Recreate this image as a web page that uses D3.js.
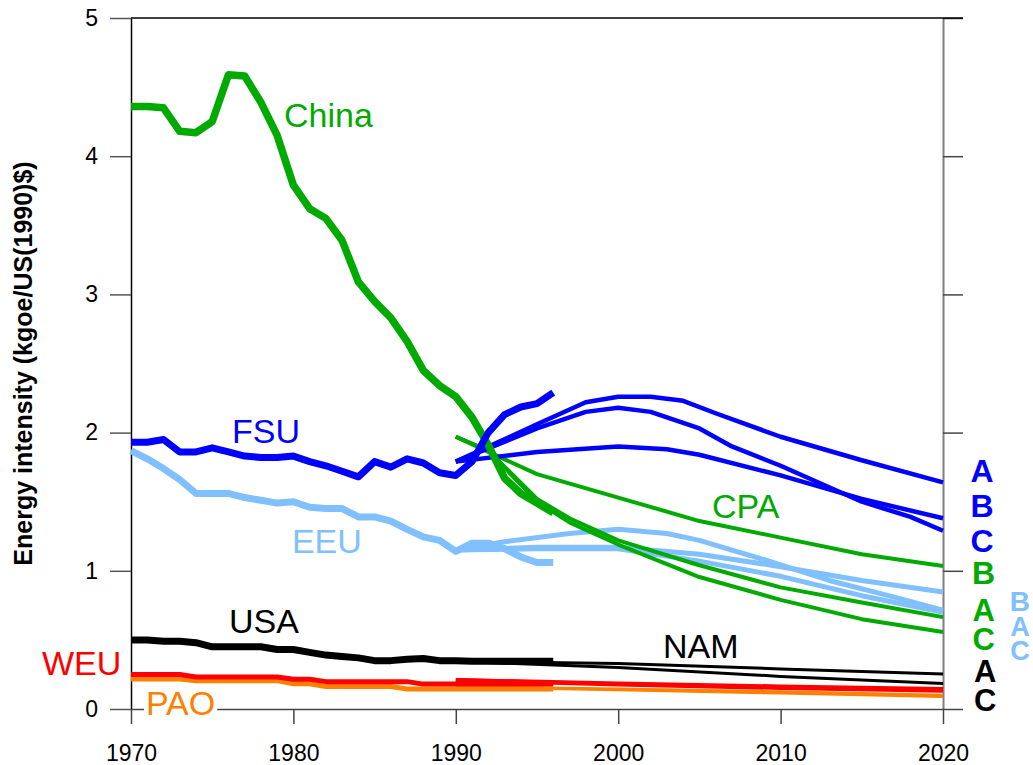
<!DOCTYPE html>
<html>
<head>
<meta charset="utf-8">
<script src="https://cdn.jsdelivr.net/npm/d3@7"></script>
<style>
  html, body { margin: 0; padding: 0; background: #fff; }
  svg { display: block; font-family: Arial, "Liberation Sans", sans-serif; }
</style>
</head>
<body>
<svg id="chart" width="1033" height="765"></svg>
<script>
// ---------- DATA ----------
const histYears = d3.range(1970, 1997);
const chinaHist = [4.36,4.36,4.35,4.18,4.17,4.25,4.59,4.58,4.39,4.15,3.79,3.62,3.55,3.39,3.09,2.95,2.83,2.66,2.45,2.34,2.26,2.11,1.91,1.67,1.56,1.49,1.42];
const fsuHist   = [1.93,1.93,1.95,1.86,1.86,1.89,1.86,1.83,1.82,1.82,1.83,1.79,1.76,1.72,1.68,1.79,1.75,1.81,1.78,1.71,1.69,1.79,2.00,2.13,2.185,2.21,2.29];
const eeuHist   = [1.87,1.81,1.74,1.66,1.56,1.56,1.56,1.53,1.51,1.49,1.50,1.46,1.45,1.45,1.39,1.39,1.36,1.30,1.245,1.22,1.14,1.20,1.20,1.16,1.10,1.06,1.06];
const usaHist   = [0.50,0.50,0.49,0.49,0.48,0.45,0.45,0.45,0.45,0.43,0.43,0.41,0.39,0.38,0.37,0.35,0.35,0.36,0.365,0.35,0.35,0.345,0.345,0.345,0.345,0.345,0.345];
const weuHist   = [0.25,0.25,0.25,0.25,0.232,0.232,0.232,0.232,0.232,0.232,0.215,0.215,0.198,0.198,0.198,0.198,0.198,0.198,0.18,0.18,0.18,0.18,0.18,0.18,0.18,0.18,0.18];
const paoHist   = [0.217,0.217,0.217,0.217,0.205,0.205,0.205,0.205,0.205,0.205,0.182,0.182,0.163,0.163,0.163,0.163,0.163,0.145,0.145,0.145,0.145,0.145,0.145,0.145,0.145,0.145,0.145];

// scenario series (years, values)
const fsuAYears = [1990,1995,1998,2000,2002,2004,2006,2010,2015,2020];
const fsuAVals  = [1.79,2.06,2.22,2.26,2.26,2.23,2.14,1.97,1.80,1.64];
const fsuBYears = [1990,1995,2000,2003,2005,2010,2015,2020];
const fsuBVals  = [1.79,1.86,1.90,1.88,1.84,1.69,1.52,1.38];
const fsuCYears = [1990,1995,1998,2000,2002,2005,2007,2010,2015,2018,2020];
const fsuCVals  = [1.79,2.03,2.15,2.18,2.15,2.03,1.90,1.76,1.50,1.39,1.29];

const cpaAYears = [1990,1992,1995,1997,2000,2005,2010,2015,2020];
const cpaAVals  = [1.97,1.87,1.52,1.38,1.22,1.04,0.88,0.77,0.665];
const cpaBYears = [1990,1992,1995,2000,2005,2010,2015,2020];
const cpaBVals  = [1.97,1.86,1.70,1.53,1.36,1.24,1.12,1.035];
const cpaCYears = [1990,1992,1995,1997,2000,2005,2010,2015,2020];
const cpaCVals  = [1.97,1.87,1.50,1.35,1.19,0.955,0.79,0.65,0.557];

const eeuAYears = [1990,1993,1997,2000,2003,2005,2009,2013,2017,2020];
const eeuAVals  = [1.15,1.21,1.27,1.30,1.27,1.22,1.08,0.93,0.81,0.716];
const eeuBYears = [1990,1995,2000,2005,2010,2015,2020];
const eeuBVals  = [1.15,1.17,1.17,1.12,1.03,0.93,0.846];
const eeuCYears = [1990,1995,2000,2005,2010,2015,2020];
const eeuCVals  = [1.15,1.16,1.16,1.07,0.96,0.82,0.70];

const namAYears = [1990,2000,2010,2020];
const namAVals  = [0.345,0.33,0.29,0.253];
const namCYears = [1990,2000,2010,2020];
const namCVals  = [0.345,0.30,0.236,0.185];

const weuAYears = [1990,2000,2010,2020];
const weuAVals  = [0.21,0.185,0.163,0.145];
const weuCYears = [1990,2000,2010,2020];
const weuCVals  = [0.21,0.178,0.152,0.132];

const paoAYears = [1990,2000,2010,2020];
const paoAVals  = [0.16,0.145,0.125,0.10];
const paoCYears = [1990,2000,2010,2020];
const paoCVals  = [0.16,0.14,0.115,0.09];

const xTicks = [1970,1980,1990,2000,2010,2020];
const yTicks = [0,1,2,3,4,5];

// region labels: [text, year, value(baseline), colour]
const regionLabels = [
  ["China", 1979.42, 4.21, "#00AA00"],
  ["FSU",   1976.22, 1.925, "#0000FF"],
  ["EEU",   1979.91, 1.129, "#80C0FF"],
  ["CPA",   2005.78, 1.382, "#00AA00"],
  ["USA",   1976.03, 0.55,  "#000000"],
  ["NAM",   2002.76, 0.369, "#000000"],
  ["WEU",   1964.52, 0.246, "#FF0000"],
  ["PAO",   1970.92, -0.043, "#FF8000"]
];
// scenario letters at the right: [text, year(centre), value(centre), colour, size]
const scenarioLetters = [
  ["A", 2022.4, 1.729, "#0000FF", 32],
  ["B", 2022.4, 1.476, "#0000FF", 32],
  ["C", 2022.4, 1.223, "#0000FF", 32],
  ["B", 2022.5, 0.991, "#00AA00", 32],
  ["A", 2022.5, 0.716, "#00AA00", 31],
  ["C", 2022.5, 0.507, "#00AA00", 31],
  ["A", 2022.6, 0.275, "#000000", 31],
  ["C", 2022.6, 0.065, "#000000", 31],
  ["B", 2024.74, 0.781, "#80C0FF", 28],
  ["A", 2024.74, 0.598, "#80C0FF", 27],
  ["C", 2024.74, 0.422, "#80C0FF", 27]
];

// ---------- CHART ----------
const svg = d3.select("#chart");
const x = d3.scaleLinear().domain([1970, 2020]).range([131, 943]);
const y = d3.scaleLinear().domain([0, 5]).range([709, 18]);

const line = d3.line().x(d => x(d[0])).y(d => y(d[1]));
const zip = (xs, vs) => xs.map((v, i) => [v, vs[i]]);

const series = [
  // scenarios (thin)
  {xs: eeuAYears, vs: eeuAVals, c: "#80C0FF", w: 5},
  {xs: eeuBYears, vs: eeuBVals, c: "#80C0FF", w: 5},
  {xs: eeuCYears, vs: eeuCVals, c: "#80C0FF", w: 5},
  {xs: cpaAYears, vs: cpaAVals, c: "#00AA00", w: 4},
  {xs: cpaBYears, vs: cpaBVals, c: "#00AA00", w: 4},
  {xs: cpaCYears, vs: cpaCVals, c: "#00AA00", w: 4},
  {xs: fsuAYears, vs: fsuAVals, c: "#0000FF", w: 4.5},
  {xs: fsuBYears, vs: fsuBVals, c: "#0000FF", w: 4.5},
  {xs: fsuCYears, vs: fsuCVals, c: "#0000FF", w: 4.5},
  {xs: namAYears, vs: namAVals, c: "#000000", w: 3},
  {xs: namCYears, vs: namCVals, c: "#000000", w: 3},
  {xs: paoAYears, vs: paoAVals, c: "#FF8000", w: 3},
  {xs: paoCYears, vs: paoCVals, c: "#FF8000", w: 3},
  {xs: weuAYears, vs: weuAVals, c: "#FF0000", w: 4},
  {xs: weuCYears, vs: weuCVals, c: "#FF0000", w: 4},
  // history (thick)
  {xs: histYears, vs: eeuHist,   c: "#80C0FF", w: 7},
  {xs: histYears, vs: chinaHist, c: "#00AA00", w: 7.5},
  {xs: histYears, vs: fsuHist,   c: "#0000FF", w: 7},
  {xs: histYears, vs: usaHist,   c: "#000000", w: 7},
  {xs: histYears, vs: paoHist,   c: "#FF8000", w: 5},
  {xs: histYears, vs: weuHist,   c: "#FF0000", w: 5}
];

// axes
const axisFont = "23px";
const gL = svg.append("g").attr("transform", `translate(${x(1970)},0)`)
  .call(d3.axisLeft(y).tickValues(yTicks).tickSize(21).tickSizeOuter(0).tickPadding(12).tickFormat(d3.format("d")));
gL.select(".domain").attr("stroke", "#000").attr("stroke-width", 1.5);
gL.selectAll(".tick line").attr("stroke", "#555").attr("stroke-width", 1.5);
gL.selectAll(".tick text").attr("font-size", axisFont).attr("fill", "#000")
  .attr("font-family", "Arial, 'Liberation Sans', sans-serif");

const gR = svg.append("g").attr("transform", `translate(${x(2020)},0)`)
  .call(d3.axisRight(y).tickValues(yTicks).tickSize(20).tickSizeOuter(0).tickFormat(""));
gR.select(".domain").attr("stroke", "#808080").attr("stroke-width", 2);
gR.selectAll(".tick line").attr("stroke", "#444").attr("stroke-width", 1.5);

const gB = svg.append("g").attr("transform", `translate(0,${y(0)})`)
  .call(d3.axisBottom(x).tickValues(xTicks).tickSize(15).tickSizeOuter(0).tickPadding(21).tickFormat(d3.format("d")));
gB.select(".domain").attr("stroke", "#444").attr("stroke-width", 1.5);
gB.selectAll(".tick line").attr("stroke", "#444").attr("stroke-width", 1.5);
gB.selectAll(".tick text").attr("font-size", axisFont).attr("fill", "#000")
  .attr("font-family", "Arial, 'Liberation Sans', sans-serif");

// top frame line
svg.append("line").attr("x1", x(1970)).attr("x2", x(2020) + 20)
  .attr("y1", y(5)).attr("y2", y(5)).attr("stroke", "#000").attr("stroke-width", 1.5);

// lines
svg.append("g").selectAll("path").data(series).join("path")
  .attr("d", s => line(zip(s.xs, s.vs)))
  .attr("fill", "none")
  .attr("stroke", s => s.c)
  .attr("stroke-width", s => s.w)
  .attr("stroke-linejoin", "round")
  .attr("stroke-linecap", "butt");

// region labels
const lab = svg.append("g").selectAll("g").data(regionLabels).join("g");
lab.each(function(d) {
  const g = d3.select(this);
  const t = g.append("text")
    .attr("x", x(d[1])).attr("y", y(d[2]))
    .attr("font-size", "34px").attr("fill", d[3])
    .text(d[0]);
  if (d[0] === "PAO") {
    const bb = t.node().getBBox();
    g.insert("rect", "text").attr("x", bb.x - 2).attr("y", bb.y + 6)
      .attr("width", bb.width + 4).attr("height", bb.height - 10).attr("fill", "#fff");
  }
});

// scenario letters
svg.append("g").selectAll("text").data(scenarioLetters).join("text")
  .attr("x", d => x(d[1])).attr("y", d => y(d[2]))
  .attr("dy", "0.36em")
  .attr("text-anchor", "middle")
  .attr("font-size", d => d[4] + "px").attr("font-weight", "bold")
  .attr("fill", d => d[3])
  .text(d => d[0]);

// y axis title
svg.append("text")
  .attr("transform", `translate(32,${(y(0) + y(5)) / 2}) rotate(-90)`)
  .attr("text-anchor", "middle")
  .attr("font-size", "25px").attr("font-weight", "bold")
  .text("Energy intensity (kgoe/US(1990)$)");
</script>
</body>
</html>
